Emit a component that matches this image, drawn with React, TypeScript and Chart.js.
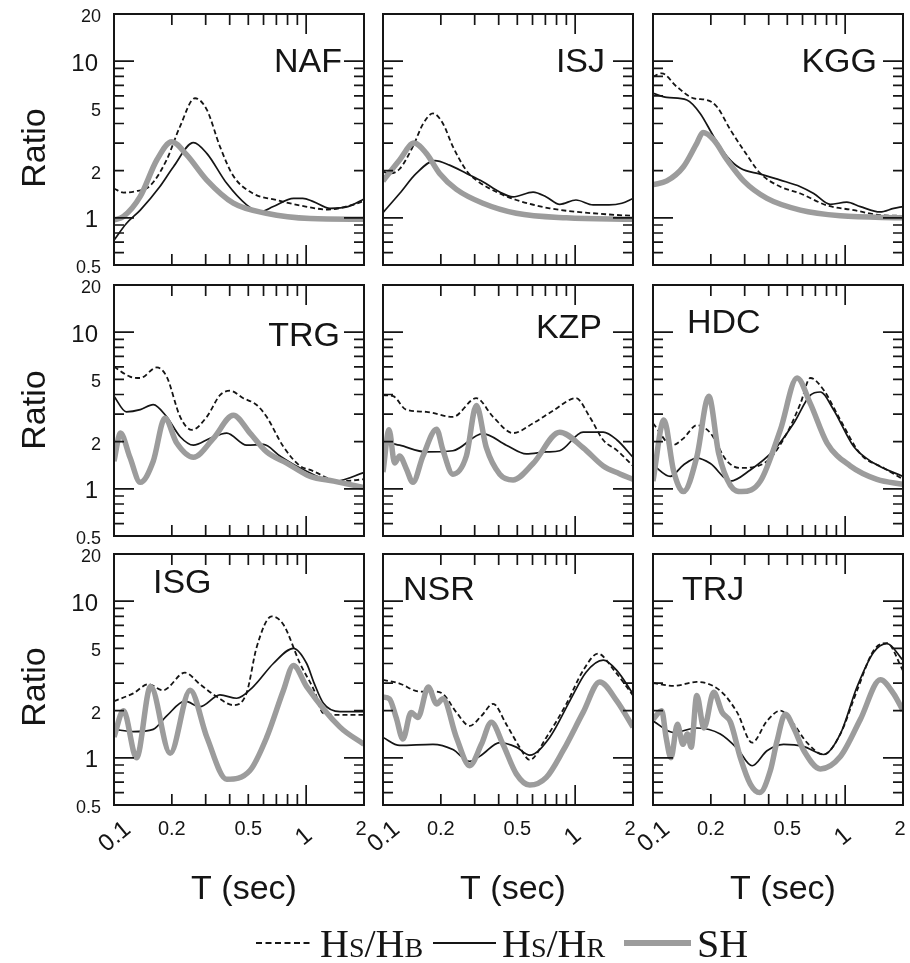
import { useEffect, useRef } from 'react';
import { Chart, registerables } from 'chart.js';

Chart.register(...registerables);

// ---------------- data (T in sec, spectral ratio) ----------------
const STATIONS = ['NAF', 'ISJ', 'KGG', 'TRG', 'KZP', 'HDC', 'ISG', 'NSR', 'TRJ'];

const NAF_HB = [[0.1,1.54],[0.112,1.45],[0.13,1.48],[0.154,1.6],[0.188,2.35],[0.22,3.8],[0.264,5.8],[0.304,4.9],[0.356,2.85],[0.418,1.85],[0.53,1.43],[0.7,1.3],[0.93,1.2],[1.3,1.13],[1.7,1.2],[2,1.28]];
const NAF_HR = [[0.1,0.72],[0.116,0.92],[0.137,1.12],[0.173,1.58],[0.204,2.12],[0.259,3.02],[0.304,2.58],[0.386,1.66],[0.49,1.21],[0.575,1.09],[0.675,1.18],[0.86,1.33],[0.96,1.33],[1.09,1.27],[1.33,1.15],[1.65,1.18],[2,1.32]];
const NAF_SH = [[0.1,0.97],[0.112,1.02],[0.137,1.37],[0.167,2.34],[0.2,3.06],[0.239,2.52],[0.304,1.74],[0.418,1.24],[0.62,1.07],[1.05,0.99],[2,0.98]];

const ISJ_HB = [[0.1,1.97],[0.108,1.92],[0.122,2.05],[0.143,2.85],[0.162,4.0],[0.182,4.64],[0.205,4.0],[0.231,2.85],[0.272,2.0],[0.306,1.74],[0.405,1.43],[0.494,1.3],[0.737,1.15],[1.51,1.05],[2,1.03]];
const ISJ_HR = [[0.1,1.08],[0.122,1.43],[0.149,1.92],[0.186,2.32],[0.222,2.17],[0.272,1.92],[0.331,1.7],[0.405,1.46],[0.475,1.36],[0.604,1.46],[0.708,1.36],[0.831,1.22],[1.01,1.3],[1.24,1.21],[1.5,1.21],[1.75,1.24],[2,1.33]];
const ISJ_SH = [[0.1,1.72],[0.122,2.34],[0.145,3.0],[0.168,2.58],[0.197,1.92],[0.241,1.52],[0.331,1.24],[0.494,1.07],[0.9,1.0],[2,0.98]];

const KGG_HB = [[0.1,7.96],[0.111,8.36],[0.133,6.87],[0.163,5.79],[0.191,5.65],[0.215,5.12],[0.253,3.64],[0.296,2.71],[0.362,1.92],[0.46,1.58],[0.585,1.43],[0.805,1.2],[1.11,1.12],[1.52,1.04],[2,1.03]];
const KGG_HR = [[0.1,6.23],[0.118,5.87],[0.15,5.65],[0.176,4.64],[0.207,3.3],[0.243,2.46],[0.285,2.07],[0.362,1.9],[0.46,1.74],[0.585,1.58],[0.686,1.43],[0.837,1.22],[1.02,1.26],[1.2,1.18],[1.52,1.09],[1.79,1.15],[2,1.18]];
const KGG_SH = [[0.1,1.63],[0.118,1.72],[0.144,2.12],[0.169,2.99],[0.182,3.5],[0.207,3.14],[0.243,2.34],[0.296,1.72],[0.392,1.33],[0.585,1.12],[0.944,1.03],[2,1.0]];

const TRG_HB = [[0.1,6.02],[0.121,5.2],[0.137,5.1],[0.167,5.96],[0.188,5.2],[0.221,2.88],[0.254,2.38],[0.304,2.88],[0.356,3.96],[0.402,4.23],[0.471,3.79],[0.553,3.43],[0.623,2.88],[0.761,1.86],[0.929,1.4],[1.05,1.32],[1.5,1.12],[2,1.15]];
const TRG_HR = [[0.1,3.9],[0.116,3.1],[0.137,3.2],[0.16,3.45],[0.188,2.88],[0.221,2.15],[0.259,1.9],[0.316,2.1],[0.386,2.27],[0.49,1.9],[0.599,1.92],[0.731,1.62],[0.929,1.36],[1.43,1.12],[2,1.27]];
const TRG_SH = [[0.1,1.5],[0.108,2.27],[0.121,1.59],[0.137,1.1],[0.16,1.5],[0.184,2.82],[0.212,1.96],[0.259,1.59],[0.329,2.1],[0.418,2.95],[0.51,2.27],[0.623,1.72],[0.792,1.46],[1.05,1.2],[1.39,1.12],[2,1.02]];

const KZP_HB = [[0.1,3.96],[0.113,3.9],[0.132,3.2],[0.168,3.1],[0.231,2.88],[0.306,3.79],[0.374,2.88],[0.475,2.27],[0.604,2.62],[0.767,3.15],[1.01,3.79],[1.19,2.88],[1.4,2.05],[1.65,1.76],[2,1.4]];
const KZP_HR = [[0.1,2.0],[0.122,1.9],[0.168,1.72],[0.231,1.75],[0.331,2.25],[0.438,1.9],[0.557,1.67],[0.708,1.72],[0.831,1.75],[1.1,2.3],[1.4,2.3],[1.65,2.05],[2,1.59]];
const KZP_SH = [[0.1,1.28],[0.1075,2.38],[0.115,1.46],[0.122,1.62],[0.132,1.35],[0.143,1.1],[0.1615,1.62],[0.19,2.4],[0.205,1.77],[0.231,1.24],[0.2715,1.62],[0.306,3.4],[0.345,1.83],[0.405,1.24],[0.475,1.14],[0.604,1.45],[0.831,2.3],[1.1,1.83],[1.4,1.4],[1.7,1.25],[2,1.15]];

const HDC_HB = [[0.1,2.62],[0.126,1.9],[0.144,2.1],[0.169,2.55],[0.199,2.27],[0.243,1.5],[0.285,1.36],[0.392,1.5],[0.498,2.27],[0.585,3.5],[0.659,5.1],[0.773,4.27],[0.944,2.75],[1.2,1.67],[1.586,1.36],[2,1.15]];
const HDC_HR = [[0.1,1.42],[0.123,1.2],[0.144,1.42],[0.169,1.57],[0.199,1.45],[0.253,1.12],[0.321,1.32],[0.425,1.76],[0.54,2.62],[0.659,3.96],[0.743,4.15],[0.87,3.2],[1.108,1.86],[1.407,1.46],[2,1.2]];
const HDC_SH = [[0.1,1.12],[0.114,2.75],[0.128,1.3],[0.144,0.96],[0.169,1.6],[0.195,3.9],[0.22,1.67],[0.253,1.05],[0.29,0.96],[0.362,1.12],[0.46,2.38],[0.562,5.1],[0.659,3.5],[0.805,1.96],[1.064,1.4],[1.464,1.15],[2,1.07]];

const ISG_HB = [[0.1,2.3],[0.126,2.58],[0.151,2.95],[0.18,2.7],[0.234,3.5],[0.28,2.95],[0.342,2.46],[0.418,2.17],[0.49,2.6],[0.553,5.1],[0.662,8.0],[0.761,7.1],[0.929,4.0],[1.1,2.7],[1.23,1.92],[1.5,1.88],[2,1.88]];
const ISG_HR = [[0.1,1.52],[0.126,1.47],[0.16,1.52],[0.188,1.85],[0.234,2.3],[0.28,2.12],[0.356,2.52],[0.435,2.4],[0.531,2.85],[0.675,4.0],[0.858,5.0],[1.006,4.0],[1.1,3.0],[1.23,2.23],[1.5,1.97],[2,1.97]];
const ISG_SH = [[0.1,1.36],[0.112,2.0],[0.131,1.0],[0.155,2.85],[0.196,1.07],[0.249,2.7],[0.304,1.36],[0.386,0.73],[0.51,0.83],[0.623,1.35],[0.761,2.69],[0.858,3.89],[1.006,2.85],[1.5,1.57],[2,1.22]];

const NSR_HB = [[0.1,3.15],[0.122,2.98],[0.155,2.65],[0.182,2.65],[0.205,2.56],[0.241,1.95],[0.2825,1.6],[0.325,1.85],[0.374,2.21],[0.438,1.64],[0.514,1.17],[0.58,0.97],[0.708,1.35],[0.9,2.21],[1.099,3.6],[1.315,4.62],[1.6,3.6],[2,2.5]];
const NSR_HR = [[0.1,1.35],[0.122,1.2],[0.182,1.22],[0.231,1.13],[0.2825,0.95],[0.325,1.04],[0.405,1.25],[0.494,1.17],[0.58,1.04],[0.737,1.35],[0.94,2.32],[1.14,3.52],[1.4,4.2],[1.65,3.6],[2,2.56]];
const NSR_SH = [[0.1,2.44],[0.108,2.38],[0.117,1.81],[0.127,1.32],[0.14,1.95],[0.152,1.81],[0.172,2.83],[0.19,2.21],[0.205,2.38],[0.241,1.35],[0.2825,0.89],[0.325,1.22],[0.366,1.69],[0.421,1.22],[0.494,0.79],[0.58,0.67],[0.708,0.75],[0.865,1.11],[1.1,1.95],[1.342,3.05],[1.65,2.3],[2,1.57]];

const TRJ_HB = [[0.1,3.0],[0.128,2.88],[0.169,3.05],[0.224,2.68],[0.274,1.95],[0.328,1.25],[0.392,1.72],[0.46,2.0],[0.54,1.64],[0.633,1.25],[0.773,1.05],[0.944,1.42],[1.152,2.68],[1.407,4.85],[1.651,5.4],[2,3.6]];
const TRJ_HR = [[0.1,1.72],[0.128,1.45],[0.169,1.55],[0.224,1.42],[0.274,1.15],[0.328,0.89],[0.392,1.11],[0.478,1.22],[0.61,1.18],[0.773,1.05],[0.944,1.42],[1.152,2.83],[1.407,4.72],[1.651,5.36],[2,4.2]];
const TRJ_SH = [[0.1,1.76],[0.111,2.0],[0.117,1.35],[0.124,1.0],[0.134,1.64],[0.143,1.22],[0.151,1.42],[0.158,1.17],[0.169,2.5],[0.184,1.55],[0.207,2.62],[0.229,1.95],[0.253,1.69],[0.285,1.0],[0.321,0.68],[0.359,0.6],[0.408,0.83],[0.442,1.28],[0.488,1.9],[0.54,1.55],[0.61,1.11],[0.743,0.85],[0.944,1.02],[1.2,1.76],[1.525,3.15],[1.789,2.56],[2,2.0]];

const HB_SERIES = [NAF_HB, ISJ_HB, KGG_HB, TRG_HB, KZP_HB, HDC_HB, ISG_HB, NSR_HB, TRJ_HB];
const HR_SERIES = [NAF_HR, ISJ_HR, KGG_HR, TRG_HR, KZP_HR, HDC_HR, ISG_HR, NSR_HR, TRJ_HR];
const SH_SERIES = [NAF_SH, ISJ_SH, KGG_SH, TRG_SH, KZP_SH, HDC_SH, ISG_SH, NSR_SH, TRJ_SH];

// axes / ticks
const T_RANGE = [0.1, 2];
const R_RANGE = [0.5, 20];
const Y_LABELS = [20, 10, 5, 2, 1, 0.5];
const Y_MAJOR = [1, 10];
const Y_MINOR = [0.6, 0.7, 0.8, 0.9, 2, 3, 4, 5, 6, 7, 8, 9];
const X_LABELS = [0.1, 0.2, 0.5, 1, 2];
const X_ROTATED = [0.1, 1];
const X_MAJOR = [1];
const X_MINOR = [0.2, 0.3, 0.4, 0.5, 0.6, 0.7, 0.8, 0.9];

// ---------------- layout / style ----------------
const W = 910;
const H = 963;
const COL_LEFT = [114, 383, 653];
const ROW_TOP = [14, 285, 554];
const PW = 250;
const PH = 251;
const RATIO_CY = [148, 410, 687];
// [align, x offset from panel left, baseline offset from panel top]
const LABEL_POS: [string, number, number][] = [
  ['right', 228, 58], ['right', 222, 58], ['right', 224, 58],
  ['right', 226, 61], ['right', 219, 53], ['left', 34, 48],
  ['left', 39, 39], ['left', 20, 46], ['left', 29, 46],
];
const BLACK = '#151515';
const GREY = '#9c9c9c';
const SANS = '"Liberation Sans", Arial, Helvetica, sans-serif';
const SERIF = '"Liberation Serif", "Times New Roman", serif';

function toPts(arr: number[][]) {
  return arr.map(([x, y]) => ({ x, y }));
}

function makePlugin(idx: number) {
  const r = Math.floor(idx / 3);
  const c = idx % 3;
  return {
    id: 'panelDecor' + idx,
    afterDraw(chart: any) {
      const ctx = chart.ctx as CanvasRenderingContext2D;
      const xs = chart.scales.x;
      const ys = chart.scales.y;
      const { left, right, top, bottom } = chart.chartArea;
      ctx.save();
      ctx.strokeStyle = BLACK;
      ctx.fillStyle = BLACK;
      // ticks
      ctx.lineWidth = 1.7;
      ctx.beginPath();
      const yTick = (v: number, len: number) => {
        const y = ys.getPixelForValue(v);
        ctx.moveTo(left, y); ctx.lineTo(left + len, y);
        ctx.moveTo(right, y); ctx.lineTo(right - len, y);
      };
      const xTick = (v: number, len: number) => {
        const x = xs.getPixelForValue(v);
        ctx.moveTo(x, top); ctx.lineTo(x, top + len);
        ctx.moveTo(x, bottom); ctx.lineTo(x, bottom - len);
      };
      Y_MINOR.forEach((v) => yTick(v, 10));
      Y_MAJOR.forEach((v) => yTick(v, 20));
      X_MINOR.forEach((v) => xTick(v, 11));
      X_MAJOR.forEach((v) => xTick(v, 20));
      ctx.stroke();
      // frame
      ctx.lineWidth = 2;
      ctx.strokeRect(left, top, right - left, bottom - top);

      // station label
      const [align, ox, oy] = LABEL_POS[idx];
      ctx.font = `34px ${SANS}`;
      ctx.textAlign = align as CanvasTextAlign;
      ctx.textBaseline = 'alphabetic';
      ctx.fillText(STATIONS[idx], left + ox, top + oy);

      // y tick labels + title
      if (c === 0) {
        ctx.textAlign = 'right';
        ctx.textBaseline = 'middle';
        Y_LABELS.forEach((v) => {
          const major = Y_MAJOR.includes(v);
          ctx.font = `${major ? 24 : 18}px ${SANS}`;
          ctx.fillText(String(v), left - (major ? 16 : 13), ys.getPixelForValue(v) + 3);
        });
        ctx.save();
        ctx.translate(36, RATIO_CY[r]);
        ctx.rotate(-Math.PI / 2);
        ctx.font = `34px ${SANS}`;
        ctx.textAlign = 'center';
        ctx.textBaseline = 'middle';
        ctx.fillText('Ratio', 0, 0);
        ctx.restore();
      }
      // x tick labels + title
      if (r === 2) {
        X_LABELS.forEach((v) => {
          const x = xs.getPixelForValue(v);
          if (X_ROTATED.includes(v)) {
            ctx.save();
            ctx.translate(x + (v < 0.5 ? 1 : -2), bottom + 32);
            ctx.rotate(-40 * Math.PI / 180);
            ctx.font = `24px ${SANS}`;
            ctx.textAlign = 'center';
            ctx.textBaseline = 'middle';
            ctx.fillText(String(v), 0, 0);
            ctx.restore();
          } else {
            ctx.font = `20px ${SANS}`;
            ctx.textAlign = 'center';
            ctx.textBaseline = 'alphabetic';
            ctx.fillText(String(v), x - (v === 2 ? 3 : 0), bottom + 30);
          }
        });
        ctx.font = `34px ${SANS}`;
        ctx.textAlign = 'center';
        ctx.textBaseline = 'alphabetic';
        ctx.fillText('T (sec)', left + 130, 899);
      }
      // legend (drawn once)
      if (idx === 7) {
        const ly = 943;
        const base = 957;
        ctx.lineCap = 'butt';
        ctx.lineWidth = 2;
        ctx.setLineDash([6, 3.5]);
        ctx.beginPath(); ctx.moveTo(256, ly); ctx.lineTo(313, ly); ctx.stroke();
        ctx.setLineDash([]);
        ctx.beginPath(); ctx.moveTo(433, ly); ctx.lineTo(496, ly); ctx.stroke();
        ctx.strokeStyle = GREY;
        ctx.lineWidth = 6;
        ctx.beginPath(); ctx.moveTo(624, ly); ctx.lineTo(691, ly); ctx.stroke();
        ctx.textAlign = 'left';
        ctx.textBaseline = 'alphabetic';
        const drawParts = (x0: number, parts: [string, number][]) => {
          let x = x0;
          parts.forEach(([t, size]) => {
            ctx.font = `${size}px ${SERIF}`;
            ctx.fillText(t, x, base);
            x += ctx.measureText(t).width;
          });
        };
        drawParts(320, [['H', 40], ['S', 28], ['/H', 40], ['B', 28]]);
        drawParts(502, [['H', 40], ['S', 28], ['/H', 40], ['R', 28]]);
        drawParts(697, [['SH', 40]]);
      }
      ctx.restore();
    },
  };
}

function Panel({ idx }: { idx: number }) {
  const ref = useRef<HTMLCanvasElement | null>(null);
  useEffect(() => {
    const canvas = ref.current;
    if (!canvas) return;
    const r = Math.floor(idx / 3);
    const c = idx % 3;
    const L = COL_LEFT[c];
    const T = ROW_TOP[r];
    const line = { pointRadius: 0, fill: false, cubicInterpolationMode: 'monotone', borderJoinStyle: 'round' };
    const chart = new Chart(canvas, {
      type: 'line',
      data: {
        datasets: [
          { ...line, label: 'SH', data: toPts(SH_SERIES[idx]), borderColor: GREY, borderWidth: 5.5 } as any,
          { ...line, label: 'Hs/HR', data: toPts(HR_SERIES[idx]), borderColor: BLACK, borderWidth: 1.7 } as any,
          { ...line, label: 'Hs/HB', data: toPts(HB_SERIES[idx]), borderColor: BLACK, borderWidth: 1.8, borderDash: [5, 3] } as any,
        ],
      },
      options: {
        responsive: false,
        animation: false,
        devicePixelRatio: 1,
        events: [],
        layout: { padding: { left: L, top: T, right: W - L - PW, bottom: H - T - PH } },
        scales: {
          x: { type: 'logarithmic', min: T_RANGE[0], max: T_RANGE[1], display: false },
          y: { type: 'logarithmic', min: R_RANGE[0], max: R_RANGE[1], display: false },
        },
        plugins: { legend: { display: false }, tooltip: { enabled: false }, title: { display: false } },
      },
      plugins: [makePlugin(idx)],
    } as any);
    return () => chart.destroy();
  }, [idx]);
  return (
    <canvas
      ref={ref}
      width={W}
      height={H}
      style={{ position: 'absolute', left: 0, top: 0, width: W, height: H }}
    />
  );
}

export default function App() {
  return (
    <div style={{ position: 'absolute', left: 0, top: 0, width: W, height: H, background: '#fff' }}>
      {STATIONS.map((s, i) => (
        <Panel key={s} idx={i} />
      ))}
    </div>
  );
}
